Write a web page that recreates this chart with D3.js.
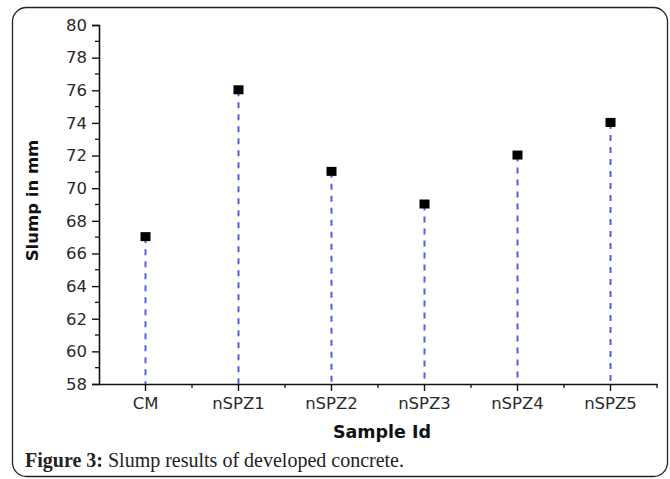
<!DOCTYPE html>
<html>
<head>
<meta charset="utf-8">
<script src="https://cdn.jsdelivr.net/npm/d3@7"></script>
<style>
  body { margin: 0; background: #fff; }
  svg { display: block; }
</style>
</head>
<body>
<div class="chart"></div>
<script>
// sample ids and measured slump (mm)
const samples = ["CM", "nSPZ1", "nSPZ2", "nSPZ3", "nSPZ4", "nSPZ5"];
const slump = [67, 76, 71, 69, 72, 74];
const yTicks = [58, 60, 62, 64, 66, 68, 70, 72, 74, 76, 78, 80];

const width = 670;
const height = 479;
const svg = d3.select('.chart')
	.append('svg')
	.attr('width', width)
	.attr('height', height)

// frame around the figure
svg.append("rect")
	.attr("x", 12.5)
	.attr("y", 7.5)
	.attr("width", 655)
	.attr("height", 469)
	.attr("rx", 14)
	.attr("fill", "none")
	.attr("stroke", "#222")
	.attr("stroke-width", 1.3)

const plotLeft = 99, plotRight = 657, plotTop = 25, plotBottom = 384;
const sans = "DejaVu Sans, Verdana, sans-serif";

const x = d3.scaleBand()
	.domain(samples)
	.range([plotLeft, plotRight])

const y = d3.scaleLinear()
	.domain([58, 80])
	.range([plotBottom, plotTop])

// y axis
const yAxis = svg.append("g")
	.attr("transform", `translate(${plotLeft},0)`)
	.call(d3.axisLeft(y).tickValues(yTicks).tickSize(7).tickPadding(5))
yAxis.select(".domain").attr("stroke", "#111").attr("stroke-width", 1.6)
yAxis.selectAll(".tick line").attr("stroke", "#111").attr("stroke-width", 1.4)
yAxis.selectAll("text")
	.attr("font-family", sans)
	.attr("font-size", 16.5)
	.attr("fill", "#2a2a2a")

// minor y ticks
svg.append("g")
	.selectAll("line")
	.data(d3.range(59, 80, 2))
	.enter()
	.append("line")
	.attr("x1", plotLeft - 4)
	.attr("x2", plotLeft)
	.attr("y1", d => y(d))
	.attr("y2", d => y(d))
	.attr("stroke", "#111")
	.attr("stroke-width", 1.3)

// x axis
const xAxis = svg.append("g")
	.attr("transform", `translate(0,${plotBottom})`)
	.call(d3.axisBottom(x).tickSize(7).tickPadding(6).tickSizeOuter(0))
xAxis.select(".domain").attr("stroke", "#111").attr("stroke-width", 1.6)
xAxis.selectAll(".tick line").attr("stroke", "#111").attr("stroke-width", 1.4)
xAxis.selectAll("text")
	.attr("font-family", sans)
	.attr("font-size", 16.5)
	.attr("fill", "#2a2a2a")

// minor x ticks on band edges
svg.append("g")
	.selectAll("line")
	.data(samples)
	.enter()
	.append("line")
	.attr("x1", d => x(d) + x.bandwidth())
	.attr("x2", d => x(d) + x.bandwidth())
	.attr("y1", plotBottom)
	.attr("y2", plotBottom + 4)
	.attr("stroke", "#111")
	.attr("stroke-width", 1.3)

// dashed drop lines
svg.selectAll(".drop")
	.data(samples)
	.enter()
	.append("line")
	.attr("class", "drop")
	.attr("x1", d => x(d) + x.bandwidth() / 2)
	.attr("x2", d => x(d) + x.bandwidth() / 2)
	.attr("y1", (d, i) => y(slump[i]))
	.attr("y2", plotBottom)
	.attr("stroke", "#5060e0")
	.attr("stroke-width", 2)
	.attr("stroke-dasharray", "6,6")

// square markers
svg.selectAll(".pt")
	.data(samples)
	.enter()
	.append("rect")
	.attr("class", "pt")
	.attr("x", d => x(d) + x.bandwidth() / 2 - 5)
	.attr("y", (d, i) => y(slump[i]) - 5)
	.attr("width", 10)
	.attr("height", 9)
	.attr("fill", "#000")

// axis titles
svg.append("text")
	.attr("transform", `translate(38,${(plotTop + plotBottom) / 2 - 4}) rotate(-90)`)
	.attr("text-anchor", "middle")
	.attr("font-family", sans)
	.attr("font-weight", "bold")
	.attr("font-size", 16.5)
	.attr("fill", "#111")
	.text("Slump in mm")

svg.append("text")
	.attr("x", 382)
	.attr("y", 438)
	.attr("text-anchor", "middle")
	.attr("font-family", sans)
	.attr("font-weight", "bold")
	.attr("font-size", 17.5)
	.attr("fill", "#111")
	.text("Sample Id")

// caption
const cap = svg.append("text")
	.attr("x", 25)
	.attr("y", 467)
	.attr("font-family", "Liberation Serif, Times New Roman, serif")
	.attr("font-size", 20)
	.attr("fill", "#222")
cap.append("tspan").attr("font-weight", "bold").text("Figure 3:")
cap.append("tspan").text(" Slump results of developed concrete.")
</script>
</body>
</html>
